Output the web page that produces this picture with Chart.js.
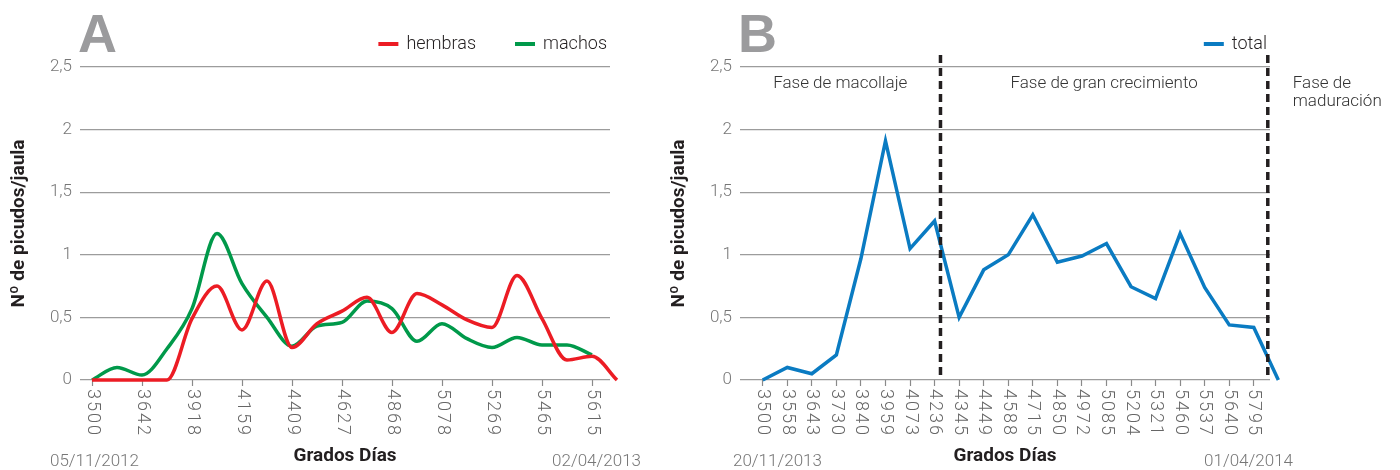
<!DOCTYPE html>
<html>
<head>
<meta charset="utf-8">
<script src="https://cdn.jsdelivr.net/npm/chart.js@4.4.1/dist/chart.umd.min.js"></script>
<style>
  html, body { margin: 0; padding: 0; background: #fff; }
  #wrap { position: relative; width: 1400px; height: 470px; }
  canvas { position: absolute; top: 0; }
  #chartA { left: 0; }
  #chartB { left: 660px; }
</style>
</head>
<body>
<div id="wrap">
  <canvas id="chartA" width="660" height="470"></canvas>
  <canvas id="chartB" width="740" height="470"></canvas>
</div>
<script>
// ---- panel A ----
const gradosA = ['3500', '', '3642', '', '3918', '', '4159', '', '4409', '', '4627', '',
                 '4868', '', '5078', '', '5269', '', '5465', '', '5615', ''];
const hembras = [0, 0, 0, 0, 0.49, 0.75, 0.40, 0.79, 0.26, 0.45, 0.55, 0.66,
                 0.38, 0.69, 0.60, 0.48, 0.42, 0.835, 0.49, 0.16, 0.19, 0];
const machos = [0, 0.10, 0.04, 0.25, 0.57, 1.17, 0.77, 0.50, 0.27, 0.43, 0.46, 0.63,
                0.57, 0.31, 0.45, 0.33, 0.26, 0.34, 0.28, 0.28, 0.20, null];
const fechasA = ['05/11/2012', '02/04/2013'];

// ---- panel B ----
const gradosB = ['3500', '3558', '3643', '3730', '3840', '3959', '4073', '4236', '4345', '4449', '4588',
                 '4715', '4850', '4972', '5085', '5204', '5321', '5460', '5537', '5640', '5795', ''];
const total = [0, 0.10, 0.05, 0.20, 0.97, 1.91, 1.05, 1.27, 0.50, 0.88, 1.00,
               1.32, 0.94, 0.99, 1.09, 0.745, 0.65, 1.17, 0.74, 0.44, 0.42, 0];
const fechasB = ['20/11/2013', '01/04/2014'];
const fases = ['Fase de macollaje', 'Fase de gran crecimiento', 'Fase de\nmaduración'];
const limitesFase = [7.24, 20.57];

const FONT = 'Roboto';
const pointsOf = vals => vals.map((v, i) => ({ x: i, y: v }));

// texts and marks drawn on top of the chart
const decor = {
  id: 'decor',
  afterDraw(chart, args, o) {
    const ctx = chart.ctx, area = chart.chartArea, x = chart.scales.x;
    ctx.save();

    // big panel letter
    ctx.fillStyle = '#9b9b9d';
    ctx.font = 'bold 54px "Liberation Sans", Arial, sans-serif';
    ctx.textAlign = 'left';
    ctx.textBaseline = 'alphabetic';
    ctx.fillText(o.letra, area.left - 2, 52);

    // x tick labels, turned clockwise
    ctx.font = `300 18px ${FONT}`;
    ctx.fillStyle = '#666';
    ctx.letterSpacing = '2px';
    x.ticks.forEach(t => {
      const lab = o.grados[t.value];
      if (!lab) return;
      ctx.save();
      ctx.translate(x.getPixelForValue(t.value), area.bottom + 9);
      ctx.rotate(Math.PI / 2);
      ctx.textAlign = 'left';
      ctx.textBaseline = 'middle';
      ctx.fillText(lab, 0, 0);
      ctx.restore();
    });
    ctx.letterSpacing = '0px';

    // dates
    ctx.font = `300 17px ${FONT}`;
    ctx.fillStyle = '#777';
    ctx.textBaseline = 'alphabetic';
    ctx.textAlign = 'left';
    ctx.fillText(o.fechas[0], o.fechaX[0], 466);
    ctx.textAlign = 'right';
    ctx.fillText(o.fechas[1], o.fechaX[1], 466);

    // legend
    ctx.font = `300 18px ${FONT}`;
    ctx.textBaseline = 'middle';
    ctx.textAlign = 'left';
    const items = chart.data.datasets.map(d => ({ label: d.label, color: d.borderColor, w: 28 + ctx.measureText(d.label).width }));
    const gap = 39;
    let lx = area.right - 3 - items.reduce((s, it) => s + it.w, 0) - gap * (items.length - 1);
    items.forEach(it => {
      ctx.fillStyle = it.color;
      ctx.fillRect(lx, 42, 20, 4);
      ctx.fillStyle = '#231f20';
      ctx.fillText(it.label, lx + 28, 44);
      lx += it.w + gap;
    });

    // growth phases
    if (o.limites) {
      const px = o.limites.map(v => x.getPixelForValue(v));
      ctx.setLineDash([8, 5]);
      ctx.lineWidth = 3.5;
      ctx.strokeStyle = '#231f20';
      px.forEach(p => {
        ctx.beginPath();
        ctx.moveTo(p, area.top - 12);
        ctx.lineTo(p, area.bottom);
        ctx.stroke();
      });
      ctx.setLineDash([]);
      ctx.font = `300 17px ${FONT}`;
      ctx.fillStyle = '#333';
      ctx.textAlign = 'center';
      ctx.fillText(o.fases[0], (area.left + px[0]) / 2, 84);
      ctx.fillText(o.fases[1], (px[0] + px[1]) / 2, 84);
      ctx.textAlign = 'left';
      o.fases[2].split('\n').forEach((ln, i) => ctx.fillText(ln, px[1] + 25, 84 + i * 18));
    }
    ctx.restore();
  }
};

function opciones(grados, xMin, xMax, padRight, decorOpts) {
  return {
    responsive: false,
    animation: false,
    layout: { padding: { top: 67, right: padRight, bottom: 0, left: 0 } },
    plugins: { legend: { display: false }, tooltip: { enabled: false }, decor: decorOpts },
    scales: {
      x: {
        type: 'linear', min: xMin, max: xMax, bounds: 'data',
        afterBuildTicks: s => { s.ticks = grados.map((g, i) => ({ value: i, g })).filter(t => t.g !== ''); },
        afterFit: s => { s.height = 90; },
        border: { display: false },
        grid: { drawOnChartArea: false, drawTicks: true, tickLength: 6, tickColor: '#8a8a8a', tickWidth: 1.2 },
        ticks: { display: false },
        title: { display: true, text: 'Grados Días', color: '#231f20',
                 font: { family: FONT, size: 19, weight: 'bold' }, padding: { top: 0, bottom: 2 } }
      },
      y: {
        min: 0, max: 2.5,
        afterFit: s => { s.width = 80; },
        border: { display: false },
        grid: { color: '#9c9c9c', lineWidth: 1.3, drawTicks: false },
        ticks: { stepSize: 0.5, padding: 8, color: '#777',
                 font: { family: FONT, size: 17, weight: '300' },
                 callback: v => String(v).replace('.', ',') },
        title: { display: true, text: 'Nº de picudos/jaula', color: '#231f20',
                 font: { family: FONT, size: 19, weight: 'bold' }, padding: { top: 8, bottom: 0 } }
      }
    }
  };
}

const linea = (label, vals, color, smooth) => ({
  label, data: pointsOf(vals), borderColor: color, backgroundColor: color,
  borderWidth: 3.5, pointRadius: 0, fill: false, clip: false,
  cubicInterpolationMode: smooth ? 'monotone' : 'default', tension: smooth ? 0.4 : 0
});

new Chart(document.getElementById('chartA'), {
  type: 'line',
  data: { datasets: [linea('hembras', hembras, '#ec1c24', true), linea('machos', machos, '#00994a', true)] },
  options: opciones(gradosA, -0.48, 20.72, 50,
    { letra: 'A', grados: gradosA, fechas: fechasA, fechaX: [50, 641] }),
  plugins: [decor]
});

new Chart(document.getElementById('chartB'), {
  type: 'line',
  data: { datasets: [linea('total', total, '#0a7bc2', false)] },
  options: opciones(gradosB, -0.925, 20.66, 130,
    { letra: 'B', grados: gradosB, fechas: fechasB, fechaX: [73, 633], fases, limites: limitesFase }),
  plugins: [decor]
});
</script>
</body>
</html>
